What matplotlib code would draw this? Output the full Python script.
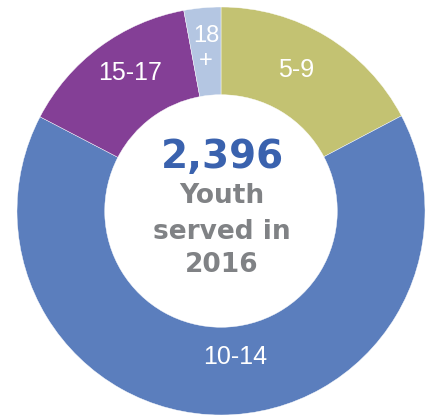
import numpy as np
import matplotlib
matplotlib.use("Agg")
import matplotlib.pyplot as plt

# datos
grupos = ['5-9', '10-14', '15-17', '18\n+']
jovenes = [414, 1566, 346, 70]
colores = ['#C3C272', '#5B7EBD', '#843F96', '#B4C6E2']
total = '2,396'

azul = '#3A62AE'
gris = '#808285'

fig = plt.figure(figsize=(4.32, 4.15), dpi=100)
ax = fig.add_axes([0, 0, 1, 1])

wedges, _ = ax.pie(jovenes, colors=colores, startangle=90, counterclock=False,
                   radius=1.0, wedgeprops=dict(width=0.43, edgecolor='white', linewidth=0.3))

# etiquetas dentro del anillo
label_r = [0.784, 0.72, 0.81, 0.80]
label_da = [3.0, 5.5, -3.2, 0.0]
for w, txt, r, da in zip(wedges, grupos, label_r, label_da):
    ang = np.deg2rad((w.theta1 + w.theta2) / 2 + da)
    ax.text(r * np.cos(ang), r * np.sin(ang), txt, ha='center', va='center',
            color='white', fontsize=18 if '\n' not in txt else 17,
            family=['Liberation Sans', 'DejaVu Sans'], linespacing=1.2)

# texto central
ax.text(0.005, 0.265, total, ha='center', va='center', color=azul,
        fontsize=28, fontweight='bold', family='DejaVu Sans')
ax.text(0.005, 0.073, 'Youth', ha='center', va='center', color=gris,
        fontsize=19, fontweight='bold', family='DejaVu Sans')
ax.text(0.005, -0.103, 'served in', ha='center', va='center', color=gris,
        fontsize=19, fontweight='bold', family='DejaVu Sans')
ax.text(0.005, -0.265, '2016', ha='center', va='center', color=gris,
        fontsize=19, fontweight='bold', family='DejaVu Sans')

ax.set_xlim(-221 / 204, (432 - 221) / 204)
ax.set_ylim(-(415 - 211) / 204, 211 / 204)
ax.set_aspect('auto')
ax.axis('off')

fig.savefig('out.png', dpi=100, facecolor='white')
